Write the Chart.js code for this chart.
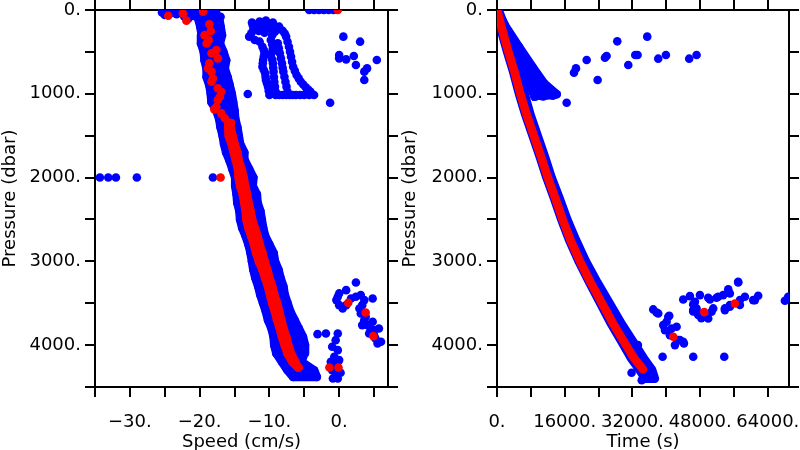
<!DOCTYPE html>
<html>
<head>
<meta charset="utf-8">
<script src="https://cdn.jsdelivr.net/npm/chart.js@4.4.1/dist/chart.umd.min.js"></script>
<style>
  body { margin: 0; background: #fff; }
  .row { display: flex; width: 800px; height: 450px; }
  canvas { display: block; }
</style>
</head>
<body>
<div class="row">
  <canvas id="speedChart" width="400" height="450"></canvas>
  <canvas id="timeChart" width="400" height="450"></canvas>
</div>
<script>
// ---- ticks ----
const speedTicks = [-35, -30, -25, -20, -15, -10, -5, 0, 5];
const speedLabels = ['', '\u221230.', '', '\u221220.', '', '\u221210.', '', '0.', ''];
const timeTicks = [0, 8000, 16000, 24000, 32000, 40000, 48000, 56000, 64000];
const timeLabels = ['0.', '', '16000.', '', '32000.', '', '48000.', '', '64000.'];
const presTicks = [0, 500, 1000, 1500, 2000, 2500, 3000, 3500, 4000, 4500];
const presLabels = ['0.', '', '1000.', '', '2000.', '', '3000.', '', '4000.', ''];

// ---- left panel: speed (cm/s) vs pressure (dbar) ----
const bandP = [100, 200, 300, 400, 500, 600, 700, 800, 900, 1000, 1100, 1200, 1300, 1400, 1500, 1600, 1700, 1800, 1900, 2000, 2100, 2200,
  2300, 2400, 2500, 2600, 2700, 2800, 2900, 3000, 3100, 3200, 3300, 3400, 3500, 3600, 3700, 3800, 3900, 4000, 4100, 4200, 4300, 4380];
const blueLo = [-20.2, -19.9, -19.7, -19.8, -19.4, -19.3, -19.0, -19.0, -18.6, -18.4, -18.3, -17.6, -17.2, -17.0, -16.7, -16.5, -16.2, -15.7, -15.3, -14.9, -14.9, -14.7,
  -14.6, -14.3, -14.2, -13.9, -13.4, -13.0, -12.7, -12.5, -12.3, -12.0, -11.6, -11.3, -10.9, -10.5, -10.2, -9.7, -9.4, -9.3, -9.0, -8.2, -7.4, -6.6];
const blueHi = [-17.2, -17.0, -16.8, -17.1, -16.6, -16.2, -16.4, -16.0, -15.7, -15.4, -15.2, -15.0, -14.9, -14.6, -14.4, -14.2, -13.6, -13.5, -12.9, -12.3, -12.4, -11.8,
  -11.7, -11.3, -11.1, -10.9, -10.6, -10.0, -9.4, -9.2, -8.7, -8.4, -8.0, -7.8, -7.4, -7.0, -6.4, -5.8, -5.2, -4.9, -5.0, -5.4, -3.6, -3.2];

const redP = [1350, 1400, 1500, 1600, 1700, 1800, 1900, 2000, 2100, 2200, 2300, 2400, 2500, 2600, 2700, 2800, 2900, 3000, 3100, 3200,
  3300, 3400, 3500, 3600, 3700, 3800, 3900, 4000, 4100, 4200, 4267];
const redLo = [-15.9, -15.9, -15.8, -15.4, -15.1, -14.8, -14.5, -14.4, -14.2, -13.8, -13.6, -13.4, -13.3, -13.0, -12.6, -12.2, -11.9, -11.5, -11.0, -10.6,
  -10.2, -9.9, -9.6, -9.2, -8.9, -8.5, -8.2, -7.8, -7.4, -6.7, -5.9];
const redHi = [-15.5, -15.6, -15.3, -15.0, -14.6, -14.4, -14.0, -13.7, -13.5, -13.2, -13.0, -12.7, -12.5, -12.1, -11.7, -11.4, -11.0, -10.7, -10.3, -10.0,
  -9.6, -9.3, -8.9, -8.6, -8.3, -8.0, -7.6, -7.3, -6.9, -6.3, -5.8];

const redTopS = [-24.5, -22.4, -21.9, -19.5, -18.6, -18.4, -19.3, -18.7, -19.0, -18.3, -17.6, -17.4, -18.6, -18.8, -18.3, -18.1, -18.3, -17.4, -16.9, -17.1,
  -17.4, -17.6, -17.9, -16.9, -16.4, -15.9];
const redTopP = [68, 40, 127, 20, 170, 250, 300, 358, 400, 517, 478, 577, 637, 696, 736, 816, 856, 935, 975, 1035,
  1075, 1154, 1186, 1234, 1293, 1345];
const redOddS = [-17.0, -0.2, -1.4, -0.1, 1.3, 3.8, 4.9];
const redOddP = [2000, 0, 4267, 4267, 3495, 3610, 3893];

const topS = [-25.4, -24.8, -24.0, -23.3, -22.6, -21.9, -21.2, -20.5, -19.8, -19.1, -18.4, -21.6, -22.2, -20.8, -25.0, -24.3, -23.6, -17.6, -17.0];
const topP = [30, 45, 35, 50, 30, 45, 30, 40, 25, 35, 25, 100, 80, 70, 60, 15, 15, 40, 80];

const loopS = [-12.4, -11.4, -10.5, -9.5, -8.6, -8.1, -12.6, -11.9, -12.9, -12.1, -11.4, -11.0, -10.7, -10.9, -11.0, -10.6, -10.5, -10.2, -10.0,
  -9.8, -9.5, -9.8, -9.5, -9.4, -9.3, -9.1, -8.8, -8.5, -8.2, -8.0, -7.7, -7.4, -7.6, -7.2, -6.9, -6.6, -6.1, -5.5, -4.8, -4.1, -3.6,
  -8.1, -7.1, -6.2, -5.0, -9.1, -12.0, -11.0, -10.0, -9.0,
  -12.5, -11.8, -11.0, -10.2, -9.4, -8.8, -12.3, -11.5, -10.7, -9.6, -9.2, -7.8,
  -9.6, -9.6, -9.6, -9.45, -9.35, -9.2, -8.65, -8.35, -8.1, -7.85, -7.55,
  -7.4, -7.05, -6.75, -6.35, -5.8, -5.15, -4.45, -8.6, -7.6, -6.7, -5.6, -4.3,
  -10.8, -10.8, -10.95, -10.8, -10.55, -10.35, -10.1];
const loopP = [179, 139, 127, 151, 199, 247, 279, 239, 318, 358, 378, 438, 517, 597, 677, 756, 836, 915, 1015,
  358, 458, 537, 637, 736, 856, 975, 398, 517, 637, 736, 856, 975, 318, 438, 557, 677, 776, 856, 923, 975, 1015,
  1015, 1015, 1015, 1015, 1015, 200, 200, 220, 230,
  150, 170, 160, 170, 190, 220, 230, 250, 270, 300, 260, 280,
  410, 500, 590, 690, 800, 915, 458, 577, 690, 796, 915,
  378, 497, 617, 727, 816, 890, 950, 1015, 1015, 1015, 1015, 1015,
  477, 557, 637, 716, 796, 875, 965];

const sideS = [0.6, 3.0, 0.0, 0.0, 1.0, 2.1, 2.4, 4.0, 3.6, 3.6, 5.4, -13.1, -1.3, -34.3, -33.1, -32.0, -29.0, -18.1,
  -4.3, -3.6, -2.9, -2.2, -1.5, -0.8];
const sideP = [318, 378, 537, 577, 589, 549, 657, 697, 736, 836, 597, 1003, 1107, 2000, 2000, 2000, 2000, 2000,
  0, 0, 0, 0, 0, 0];

const botS = [-3.1, -1.9, -0.2, -0.5, -1.0, -0.2, -0.7, 0.0, -1.2, -0.5, -1.0, -0.5, -0.2, 0.2, -0.9];
const botP = [3869, 3861, 3861, 3941, 4020, 4060, 4140, 4179, 4200, 4230, 4300, 4360, 4398, 4330, 4398];

const rcS = [2.4, 1.0, 0.0, -0.2, -0.4, 0.0, 0.5, 1.0, 1.7, 2.4, 3.1, 3.6, 3.3, 2.9, 3.1, 3.8, 3.6, 3.3, 4.1, 4.8,
  4.8, 4.5, 5.0, 5.7, 5.2, 5.5, 6.0, 4.3, 5.0];
const rcP = [3252, 3344, 3383, 3423, 3463, 3523, 3563, 3523, 3443, 3423, 3403, 3463, 3523, 3563, 3622, 3662, 3702, 3761, 3761, 3722,
  3443, 3821, 3821, 3801, 3921, 3980, 3960, 3861, 3881];

// ---- right panel: time (s) vs pressure (dbar) ----
const curveP = [0, 250, 500, 750, 1000, 1250, 1500, 1750, 2000, 2250, 2500, 2750, 3000, 3250, 3500, 3750, 4000, 4150, 4290];
const curveT = [0, 1300, 2700, 4200, 5500, 7000, 8700, 10400, 12000, 13800, 15500, 17400, 19600, 22100, 24800, 27500, 30500, 32300, 34500];
const blueLeftT = [0, 1000, 2400, 3900, 5200, 6700, 8400, 10100, 11700, 13500, 15200, 17100, 19300, 21800, 24400, 27000, 29900, 31600, 33600];
const blueRightT = [400, 2200, 3600, 5100, 6500, 7900, 9600, 11300, 12900, 14800, 16600, 18700, 21000, 23700, 26600, 29500, 32700, 34600, 36600];
const tipT = [35000, 37000];
const tipP = [4400, 4400];
const jagT = [33300, 35300, 36800, 34200, 31800];
const jagP = [4000, 4210, 4380, 4420, 4330];

const fanT = [0, 1500, 3200, 4700, 6000, 7600, 8900, 9900, 10900, 12000, 13200, 14100, 11100, 8400, 5200, 2100, 0];
const fanP = [0, 200, 400, 600, 730, 880, 1035, 1020, 1030, 1015, 1020, 1005, 875, 680, 440, 200, 0];
const fanDotT = [8900, 9900, 10900, 12000, 13200, 14100, 7600, 11100, 8400, 5200];
const fanDotP = [1035, 1020, 1030, 1015, 1020, 1005, 880, 875, 680, 440];

const upT = [16460, 18190, 18660, 21190, 23780, 25510, 25900, 28420, 31020, 32670, 33220, 35500, 38100, 39910, 45420, 47160];
const upP = [1107, 748, 697, 597, 836, 569, 549, 374, 657, 537, 537, 318, 581, 537, 581, 537];

const lowT = [36920, 38100, 40470, 40080, 39290, 39680, 41260, 42440, 40860, 42830, 44010, 42050, 39130, 46370, 53700,
  44010, 45590, 47950, 46770, 46370, 47550, 49910, 50700, 50310, 52280, 53450, 54640, 55030, 53850, 55030, 57400, 58580,
  57000, 60940, 61720, 68030, 68810, 37720, 40700, 43220, 44170, 46370, 47160, 49910, 51880, 51090, 53850, 55030, 56990,
  57400, 60540, 46370, 47550, 48300];
const lowP = [3574, 3622, 3662, 3722, 3761, 3821, 3801, 3781, 3881, 3940, 3960, 4000, 4139, 4139, 4139,
  3455, 3415, 3403, 3483, 3582, 3622, 3682, 3602, 3455, 3423, 3403, 3335, 3383, 3562, 3542, 3463, 3423,
  3252, 3463, 3411, 3471, 3423, 3610, 3650, 3940, 3980, 3514, 3562, 3435, 3435, 3562, 3582, 3522, 3244,
  3522, 3463, 3598, 3640, 3680];
const redLowT = [41650, 48970, 56210];
const redLowP = [3900, 3606, 3503];

// ---- helpers ----
const BLUE = '#0000ff';
const RED = '#ff0000';
const FONT = { family: 'DejaVu Sans', size: 18 };
const DOT = 4.3;

function pts(xs, ys) {
  return xs.map((x, i) => ({ x: x, y: ys[i] }));
}

function dots(xs, ys, color, order) {
  return { data: pts(xs, ys), backgroundColor: color, borderWidth: 0, pointRadius: DOT, clip: 0, order: order };
}

function path(xs, ys, color, order, filled) {
  return {
    data: pts(xs, ys), showLine: true, pointRadius: 0, borderColor: color, backgroundColor: color,
    borderWidth: DOT * 2, borderJoinStyle: 'round', borderCapStyle: 'round',
    fill: filled ? 'shape' : false, clip: 0, order: order
  };
}

// closed outline: down one edge, back up the other
function ring(lo, hi, p) {
  return {
    xs: lo.concat(hi.slice().reverse(), [lo[0]]),
    ys: p.concat(p.slice().reverse(), [p[0]])
  };
}

// fixed box sizes so the plot frame lands where the reference has it
function boxSize(px, horizontal) {
  return s => {
    if (horizontal) s.height = px; else s.width = px;
    s.paddingLeft = 0; s.paddingRight = 0; s.paddingTop = 0; s.paddingBottom = 0;
  };
}

function useTicks(values) {
  return s => { s.ticks = values.map(v => ({ value: v })); };
}

function axes(xMin, xMax, xTicks, xLabels, xTitle, leftW, rightW) {
  const edge = { color: '#000', width: 2 };
  const marks = { drawOnChartArea: false, color: '#000', lineWidth: 2, tickLength: 10 };
  return {
    x: {
      type: 'linear', position: 'bottom', min: xMin, max: xMax, border: edge, grid: marks,
      afterBuildTicks: useTicks(xTicks), afterFit: boxSize(63, true),
      ticks: {
        autoSkip: false, maxRotation: 0, minRotation: 0, padding: 15, color: '#000', font: FONT,
        callback: (v, i) => xLabels[i]
      },
      title: { display: true, text: xTitle, color: '#000', font: FONT, padding: { top: 0, bottom: -3 } }
    },
    xTop: {
      type: 'linear', position: 'top', min: xMin, max: xMax, border: edge, grid: marks,
      afterBuildTicks: useTicks(xTicks), afterFit: boxSize(10, true),
      ticks: { autoSkip: false, display: false }
    },
    y: {
      type: 'linear', position: 'left', reverse: true, min: 0, max: 4500, border: edge, grid: marks,
      afterBuildTicks: useTicks(presTicks), afterFit: boxSize(leftW, false),
      ticks: {
        autoSkip: false, padding: 4, color: '#000', font: FONT,
        callback: (v, i) => presLabels[i]
      },
      title: { display: true, text: 'Pressure (dbar)', color: '#000', font: FONT, padding: { top: 0, bottom: 4 } }
    },
    yRight: {
      type: 'linear', position: 'right', reverse: true, min: 0, max: 4500, border: edge, grid: marks,
      afterBuildTicks: useTicks(presTicks), afterFit: boxSize(rightW, false),
      ticks: { autoSkip: false, display: false }
    }
  };
}

function options(scales) {
  return {
    responsive: false,
    animation: false,
    devicePixelRatio: 1,
    events: [],
    layout: { padding: 0 },
    plugins: { legend: { display: false }, tooltip: { enabled: false } },
    scales: scales
  };
}

// ---- left chart ----
const blueBand = ring(blueLo, blueHi, bandP);
const redBand = ring(redLo, redHi, redP);

const speedChart = new Chart(document.getElementById('speedChart'), {
  type: 'scatter',
  data: {
    datasets: [
      dots(redTopS, redTopP, RED, 0),
      dots(redOddS, redOddP, RED, 0),
      dots(redLo, redP, RED, 0),
      dots(redHi, redP, RED, 0),
      path(redBand.xs, redBand.ys, RED, 1, true),
      dots(blueLo, bandP, BLUE, 2),
      dots(blueHi, bandP, BLUE, 2),
      dots(topS, topP, BLUE, 2),
      dots(loopS, loopP, BLUE, 2),
      dots(sideS, sideP, BLUE, 2),
      dots(botS, botP, BLUE, 2),
      dots(rcS, rcP, BLUE, 2),
      path(blueBand.xs, blueBand.ys, BLUE, 3, true)
    ]
  },
  options: options(axes(-35, 7, speedTicks, speedLabels, 'Speed (cm/s)', 95, 12))
});

// ---- right chart ----
const descent = ring(blueLeftT.concat(tipT), blueRightT.concat([37300, 36700]), curveP.concat(tipP));

const timeChart = new Chart(document.getElementById('timeChart'), {
  type: 'scatter',
  data: {
    datasets: [
      dots(redLowT, redLowP, RED, 0),
      path(curveT, curveP, RED, 1, false),
      dots(upT, upP, BLUE, 2),
      dots(lowT, lowP, BLUE, 2),
      dots(fanDotT, fanDotP, BLUE, 2),
      dots(jagT, jagP, BLUE, 2),
      path(fanT, fanP, BLUE, 3, true),
      path(descent.xs, descent.ys, BLUE, 3, true)
    ]
  },
  options: options(axes(0, 69000, timeTicks, timeLabels, 'Time (s)', 97, 11))
});
</script>
</body>
</html>
